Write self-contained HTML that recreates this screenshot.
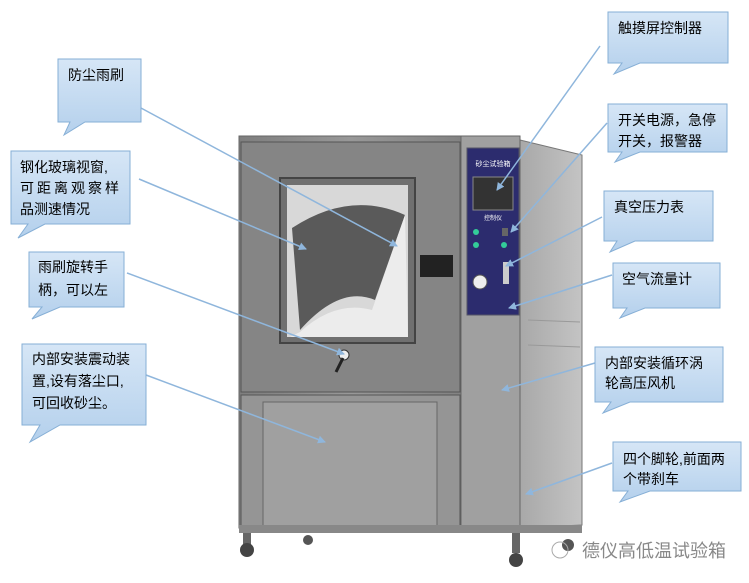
<!DOCTYPE html>
<html><head><meta charset="utf-8"><style>
html,body{margin:0;padding:0;background:#fff;width:749px;height:583px;overflow:hidden}
text{font-family:"Liberation Sans","Noto Sans CJK SC",sans-serif}
</style></head><body>
<svg width="749" height="583" viewBox="0 0 749 583" xmlns="http://www.w3.org/2000/svg">
<defs>
<linearGradient id="bx" x1="0" y1="0" x2="0" y2="1"><stop offset="0" stop-color="#d6e6f6"/><stop offset="1" stop-color="#b4d0ec"/></linearGradient>
<linearGradient id="steel" x1="0" y1="0" x2="1" y2="0"><stop offset="0" stop-color="#7e7e7e"/><stop offset="0.5" stop-color="#989898"/><stop offset="1" stop-color="#828282"/></linearGradient>
<linearGradient id="side" x1="0" y1="0" x2="1" y2="0"><stop offset="0" stop-color="#a8a8a8"/><stop offset="1" stop-color="#c4c4c4"/></linearGradient>
<marker id="ar" markerWidth="8" markerHeight="8" refX="7" refY="4" orient="auto" markerUnits="userSpaceOnUse"><path d="M0,0 L8,4 L0,8 z" fill="#8fb6dc"/></marker>
</defs>
<polygon points="520,140 582,155 582,525 520,528" fill="url(#side)" stroke="#777"/>
<line x1="528" y1="320" x2="580" y2="322" stroke="#999"/>
<line x1="528" y1="345" x2="580" y2="347" stroke="#999"/>
<rect x="239" y="136" width="222" height="392" fill="url(#steel)" stroke="#666"/>
<rect x="461" y="136" width="59" height="392" fill="#a0a0a0" stroke="#666"/>
<rect x="467" y="148" width="52" height="167" fill="#2c2c6e" stroke="#556"/>
<text x="493" y="166" font-size="7" fill="#fff" text-anchor="middle">砂尘试验箱</text>
<rect x="473" y="177" width="40" height="33" fill="#333" stroke="#888"/>
<text x="493" y="220" font-size="6" fill="#fff" text-anchor="middle">控制仪</text>
<circle cx="476" cy="232" r="3" fill="#3c9"/><circle cx="476" cy="245" r="3" fill="#3c9"/><circle cx="504" cy="245" r="3" fill="#3c9"/>
<rect x="502" y="228" width="6" height="8" fill="#666"/>
<rect x="503" y="262" width="6" height="22" fill="#ccc"/>
<circle cx="480" cy="282" r="7" fill="#eee" stroke="#555"/>
<rect x="241" y="142" width="219" height="250" fill="#858585" stroke="#555"/>
<rect x="280" y="178" width="135" height="165" fill="#707070" stroke="#444" stroke-width="2"/>
<rect x="287" y="185" width="121" height="152" fill="#d8d8d8"/>
<path d="M292,228 Q350,190 405,215 L375,300 Q340,285 300,330 Z" fill="#5a5a5a"/>
<path d="M300,332 Q335,300 372,310 L405,215 L408,337 L290,337 Z" fill="#ececec"/>
<rect x="420" y="255" width="33" height="22" fill="#222"/>
<circle cx="344" cy="355" r="5" fill="#eee" stroke="#333"/>
<line x1="343" y1="358" x2="336" y2="372" stroke="#222" stroke-width="3"/>
<rect x="241" y="395" width="219" height="132" fill="#959595" stroke="#555"/>
<rect x="263" y="402" width="174" height="125" fill="#a0a0a0" stroke="#666"/>
<rect x="239" y="525" width="343" height="8" fill="#888"/>
<rect x="243" y="533" width="8" height="12" fill="#666"/>
<circle cx="247" cy="550" r="7" fill="#444"/><circle cx="308" cy="540" r="5" fill="#555"/>
<rect x="512" y="533" width="8" height="20" fill="#666"/>
<circle cx="516" cy="560" r="7" fill="#444"/><circle cx="568" cy="545" r="6" fill="#555"/>
<g stroke="#8fb6dc" stroke-width="1.5" marker-end="url(#ar)">
<line x1="600" y1="46" x2="497" y2="190"/>
<line x1="141" y1="108" x2="397" y2="246"/>
<line x1="139" y1="179" x2="306" y2="249"/>
<line x1="607" y1="123" x2="511" y2="232"/>
<line x1="602" y1="217" x2="506" y2="266"/>
<line x1="612" y1="275" x2="509" y2="308"/>
<line x1="127" y1="273" x2="344" y2="354"/>
<line x1="146" y1="375" x2="325" y2="442"/>
<line x1="595" y1="363" x2="502" y2="390"/>
<line x1="612" y1="463" x2="526" y2="494"/>
</g>
<g fill="url(#bx)" stroke="#86afd6" stroke-width="1">
<path d="M608,12 H728 V63 H640 L614,74 L622,63 H608 Z"/>
<path d="M58,59 H141 V122 H85 L64,135 L70,122 H58 Z"/>
<path d="M11,151 H130 V224 H45 L18,238 L28,224 H11 Z"/>
<path d="M608,104 H727 V152 H640 L615,162 L622,152 H608 Z"/>
<path d="M604,191 H713 V241 H635 L610,252 L617,241 H604 Z"/>
<path d="M613,263 H720 V308 H645 L620,318 L627,308 H613 Z"/>
<path d="M29,252 H124 V307 H60 L32,319 L42,307 H29 Z"/>
<path d="M22,344 H146 V425 H60 L30,442 L40,425 H22 Z"/>
<path d="M595,347 H723 V402 H630 L603,413 L611,402 H595 Z"/>
<path d="M613,442 H741 V491 H650 L620,502 L628,491 H613 Z"/>
</g>
<g font-size="14" fill="#000">
<text x="618" y="33">触摸屏控制器</text>
<text x="68" y="80">防尘雨刷</text>
<text x="20" y="172">钢化玻璃视窗,</text>
<text x="20" y="193" letter-spacing="3">可距离观察样</text>
<text x="20" y="214">品测速情况</text>
<text x="618" y="125">开关电源，急停</text>
<text x="618" y="146">开关，报警器</text>
<text x="614" y="212">真空压力表</text>
<text x="622" y="284">空气流量计</text>
<text x="38" y="272">雨刷旋转手</text>
<text x="38" y="295">柄，可以左</text>
<text x="32" y="364">内部安装震动装</text>
<text x="32" y="386">置,设有落尘口,</text>
<text x="32" y="408">可回收砂尘。</text>
<text x="605" y="368">内部安装循环涡</text>
<text x="605" y="388">轮高压风机</text>
<text x="623" y="464">四个脚轮,前面两</text>
<text x="623" y="484">个带刹车</text>
</g>
<circle cx="560" cy="550" r="8" fill="none" stroke="#aaa"/>
<text x="582" y="557" font-size="18" fill="#888">德仪高低温试验箱</text>
</svg>
</body></html>
